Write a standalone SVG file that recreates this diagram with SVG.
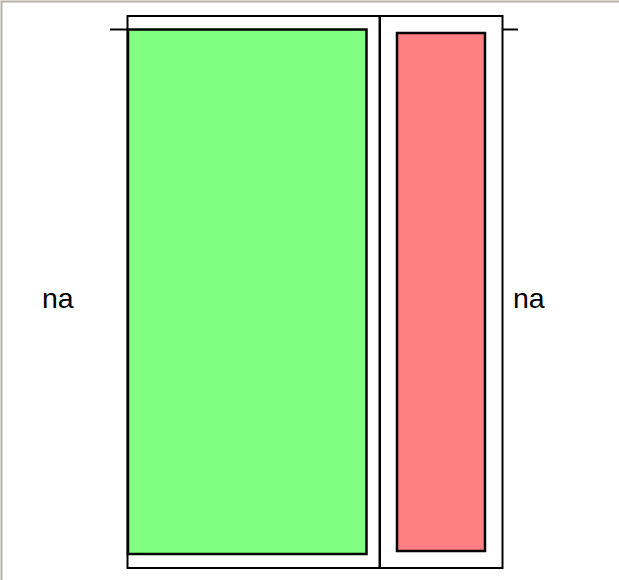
<svg xmlns="http://www.w3.org/2000/svg" width="619" height="580" viewBox="0 0 619 580">
<style>
.frame{fill:#fff;stroke:#000;stroke-width:2}
.box{stroke:#000;stroke-width:2.5}
.lbl{font-family:"Liberation Sans",Arial,sans-serif;font-size:28.5px;fill:#000}
</style>
<rect x="0" y="0" width="619" height="580" fill="#fff"/>
<path d="M1.5,580 V1.5 H619" fill="none" stroke="#b5b1a5" stroke-width="2"/>
<g id="connectors">
<line x1="110" y1="29.5" x2="128" y2="29.5" stroke="#000" stroke-width="2"/>
<line x1="502" y1="29.5" x2="518" y2="29.5" stroke="#000" stroke-width="2"/>
</g>
<g id="left">
<rect class="frame" x="127.5" y="16" width="252" height="552"/>
<rect class="box" x="128" y="29.5" width="238.5" height="524.5" fill="#80ff80"/>
</g>
<g id="right">
<rect class="frame" x="380" y="16" width="122.5" height="552"/>
<rect class="box" x="397" y="33" width="88" height="518" fill="#ff8080"/>
</g>
<g id="label-left"><text class="lbl" x="42" y="308">na</text></g>
<g id="label-right"><text class="lbl" x="513" y="308">na</text></g>
</svg>
